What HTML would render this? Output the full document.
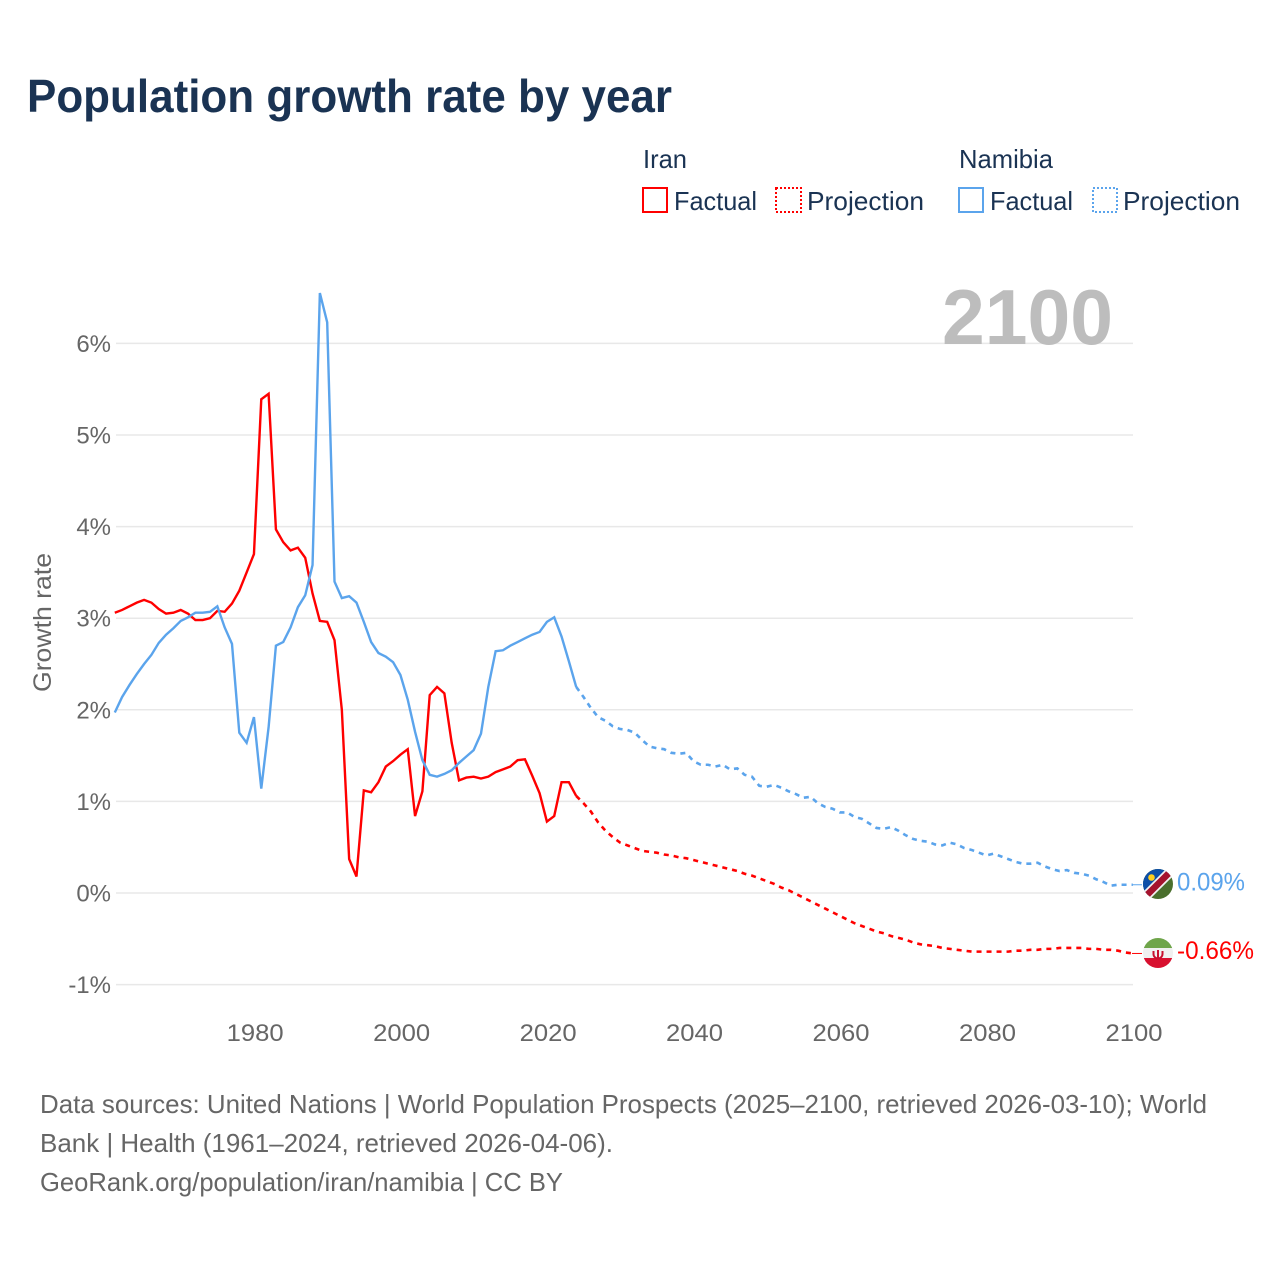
<!DOCTYPE html>
<html lang="en">
<head>
<meta charset="utf-8">
<title>Population growth rate by year</title>
<style>
html,body{margin:0;padding:0;background:#fff;width:1280px;height:1280px;overflow:hidden}
svg{display:block;font-family:"Liberation Sans",sans-serif}
</style>
</head>
<body>
<svg id="chart" xmlns="http://www.w3.org/2000/svg" width="1280" height="1280" viewBox="0 0 1280 1280">
  <rect x="0" y="0" width="1280" height="1280" fill="#fff"/>
  <text x="27" y="112" font-size="46" font-weight="700" fill="#1a3353" textLength="645" lengthAdjust="spacingAndGlyphs">Population growth rate by year</text>

  <g fill="#1a3353" font-size="26">
    <text x="643" y="168" textLength="44" lengthAdjust="spacingAndGlyphs">Iran</text>
    <text x="959" y="168" textLength="94" lengthAdjust="spacingAndGlyphs">Namibia</text>
    <rect x="643" y="188" width="24" height="24" fill="none" stroke="#ff0000" stroke-width="2"/>
    <text x="674" y="210" textLength="83" lengthAdjust="spacingAndGlyphs">Factual</text>
    <rect x="776" y="188" width="25" height="24" fill="none" stroke="#ff0000" stroke-width="2" stroke-dasharray="2 2"/>
    <text x="807" y="210" textLength="117" lengthAdjust="spacingAndGlyphs">Projection</text>
    <rect x="959" y="188" width="24" height="24" fill="none" stroke="#5ba4ec" stroke-width="2"/>
    <text x="990" y="210" textLength="83" lengthAdjust="spacingAndGlyphs">Factual</text>
    <rect x="1093" y="188" width="24" height="24" fill="none" stroke="#5ba4ec" stroke-width="2" stroke-dasharray="2 2"/>
    <text x="1123" y="210" textLength="117" lengthAdjust="spacingAndGlyphs">Projection</text>
  </g>

  <g id="grid"></g>
  <g id="ylabels"></g>
  <g id="xlabels"></g>
  <text x="942" y="344" font-size="78" font-weight="700" fill="#bdbdbd" textLength="171" lengthAdjust="spacingAndGlyphs">2100</text>
  <text transform="translate(51 692) rotate(-90)" font-size="25" fill="#666666" textLength="139" lengthAdjust="spacingAndGlyphs">Growth rate</text>
  <g id="series"></g>

  <g>
    <clipPath id="clip-na"><circle cx="1158" cy="884" r="15"/></clipPath>
    <g clip-path="url(#clip-na)">
      <rect x="1143" y="869" width="30" height="30" fill="#4a6f2d"/>
      <polygon points="1143,869 1173,869 1143,899" fill="#0d4fa8"/>
      <line x1="1143" y1="899" x2="1173" y2="869" stroke="#f2f2f2" stroke-width="10"/>
      <line x1="1143" y1="899" x2="1173" y2="869" stroke="#a5132e" stroke-width="6.5"/>
      <circle cx="1151.5" cy="877.5" r="3.3" fill="#ffce1f"/>
    </g>
  </g>
  <g>
    <clipPath id="clip-ir"><circle cx="1158" cy="953" r="15"/></clipPath>
    <g clip-path="url(#clip-ir)">
      <rect x="1143" y="938" width="30" height="30" fill="#f0f0f0"/>
      <rect x="1143" y="938" width="30" height="10" fill="#6fa54a"/>
      <rect x="1143" y="958" width="30" height="10" fill="#d8102f"/>
      <path d="M1153.5 951v3a4.5 4.5 0 0 0 9 0v-3M1158 950v9" fill="none" stroke="#c8102e" stroke-width="2"/>
    </g>
  </g>
  <text x="1177" y="890.5" font-size="25" fill="#5ba4ec" textLength="68" lengthAdjust="spacingAndGlyphs">0.09%</text>
  <text x="1177" y="959" font-size="25" fill="#ff0000" textLength="77" lengthAdjust="spacingAndGlyphs">-0.66%</text>

  <g font-size="26" fill="#666666">
    <text x="40" y="1113" textLength="1167" lengthAdjust="spacingAndGlyphs">Data sources: United Nations | World Population Prospects (2025–2100, retrieved 2026-03-10); World</text>
    <text x="40" y="1152" textLength="573" lengthAdjust="spacingAndGlyphs">Bank | Health (1961–2024, retrieved 2026-04-06).</text>
    <text x="40" y="1191" textLength="523" lengthAdjust="spacingAndGlyphs">GeoRank.org/population/iran/namibia | CC BY</text>
  </g>
</svg>
<script>
var yTickValues = [-1, 0, 1, 2, 3, 4, 5, 6];
var yTickLabels = ["-1%", "0%", "1%", "2%", "3%", "4%", "5%", "6%"];
var xTickYears = [1980, 2000, 2020, 2040, 2060, 2080, 2100];
var factualStartYear = 1961;
var projectionStartYear = 2025;
var iranFactual = [3.06,3.09,3.13,3.17,3.20,3.17,3.10,3.05,3.06,3.09,3.05,2.98,2.98,3.00,3.08,3.07,3.16,3.30,3.50,3.70,5.39,5.45,3.97,3.83,3.74,3.77,3.66,3.27,2.97,2.96,2.76,2.00,0.37,0.18,1.12,1.10,1.21,1.38,1.44,1.51,1.57,0.84,1.11,2.16,2.25,2.18,1.64,1.23,1.26,1.27,1.25,1.27,1.32,1.35,1.38,1.45,1.46,1.28,1.09,0.78,0.84,1.21,1.21,1.06];
var iranProjection = [0.98,0.89,0.77,0.68,0.61,0.55,0.52,0.49,0.46,0.45,0.44,0.42,0.41,0.39,0.38,0.36,0.34,0.32,0.30,0.28,0.26,0.24,0.21,0.19,0.16,0.13,0.10,0.06,0.03,-0.01,-0.05,-0.09,-0.13,-0.17,-0.21,-0.25,-0.29,-0.33,-0.36,-0.39,-0.42,-0.44,-0.47,-0.49,-0.51,-0.54,-0.56,-0.57,-0.58,-0.60,-0.61,-0.62,-0.63,-0.64,-0.64,-0.64,-0.64,-0.64,-0.64,-0.63,-0.63,-0.62,-0.62,-0.61,-0.61,-0.60,-0.60,-0.60,-0.60,-0.61,-0.61,-0.62,-0.62,-0.63,-0.65,-0.66];
var namibiaFactual = [1.97,2.14,2.27,2.39,2.50,2.60,2.73,2.82,2.89,2.97,3.01,3.06,3.06,3.07,3.13,2.90,2.72,1.75,1.64,1.92,1.14,1.81,2.70,2.74,2.90,3.12,3.25,3.58,6.55,6.23,3.40,3.22,3.24,3.17,2.96,2.74,2.62,2.58,2.52,2.38,2.11,1.76,1.45,1.29,1.27,1.30,1.34,1.42,1.49,1.56,1.74,2.25,2.64,2.65,2.70,2.74,2.78,2.82,2.85,2.96,3.01,2.80,2.53,2.25];
var namibiaProjection = [2.14,2.02,1.92,1.88,1.82,1.79,1.78,1.75,1.67,1.60,1.58,1.57,1.53,1.52,1.53,1.44,1.40,1.40,1.38,1.40,1.35,1.36,1.29,1.27,1.17,1.16,1.18,1.15,1.11,1.08,1.04,1.05,0.98,0.94,0.92,0.88,0.88,0.83,0.81,0.76,0.71,0.70,0.72,0.68,0.63,0.59,0.57,0.56,0.53,0.52,0.55,0.53,0.49,0.47,0.44,0.41,0.43,0.40,0.37,0.34,0.32,0.32,0.33,0.29,0.26,0.24,0.25,0.22,0.21,0.19,0.15,0.12,0.08,0.09,0.09,0.09];

var NS = "http://www.w3.org/2000/svg";
function xScale(year) { return 116 + (year - 1961) * (1134 - 116) / (2100 - 1961); }
function lineX(year) { return xScale(year) - 1.2; }
function yScale(v) { return 893 - v * 91.6; }

var grid = document.getElementById("grid");
var ylabels = document.getElementById("ylabels");
var xlabels = document.getElementById("xlabels");
var series = document.getElementById("series");

yTickValues.forEach(function (v, i) {
  var line = document.createElementNS(NS, "line");
  
  
  line.setAttribute("x1", 116);
  line.setAttribute("x2", 1133);
  line.setAttribute("y1", yScale(v));
  line.setAttribute("y2", yScale(v));
  line.setAttribute("stroke", "#e8e8e8");
  line.setAttribute("stroke-width", 1.5);
  grid.appendChild(line);

  var t = document.createElementNS(NS, "text");
  
  
  t.setAttribute("x", 111);
  t.setAttribute("y", yScale(v) + 8.5);
  t.setAttribute("text-anchor", "end");
  t.setAttribute("font-size", 24);
  t.setAttribute("fill", "#666666");
  t.textContent = yTickLabels[i];
  ylabels.appendChild(t);
});

xTickYears.forEach(function (yr) {
  var t = document.createElementNS(NS, "text");
  
  
  t.setAttribute("x", xScale(yr));
  t.setAttribute("y", 1041);
  t.setAttribute("text-anchor", "middle");
  t.setAttribute("font-size", 24);
  t.setAttribute("fill", "#666666");
  t.setAttribute("textLength", 57);
  t.setAttribute("lengthAdjust", "spacingAndGlyphs");
  t.textContent = String(yr);
  xlabels.appendChild(t);
});

function linePath(values, startYear, leadIn) {
  var pts = [];
  if (leadIn !== null) {
    pts.push(lineX(startYear - 1).toFixed(2) + "," + yScale(leadIn).toFixed(2));
  }
  values.forEach(function (v, i) {
    pts.push(lineX(startYear + i).toFixed(2) + "," + yScale(v).toFixed(2));
  });
  return "M" + pts.join("L");
}

function makePath(d, color, dashed) {
  var p = document.createElementNS(NS, "path");
  p.setAttribute("d", d);
  p.setAttribute("fill", "none");
  p.setAttribute("stroke", color);
  p.setAttribute("stroke-width", dashed ? 2.6 : 2.4);
  p.setAttribute("stroke-linejoin", "miter");
  if (dashed) { p.setAttribute("stroke-dasharray", "5 5"); }
  series.appendChild(p);
  return p;
}

var iranFactualLine = makePath(linePath(iranFactual, factualStartYear, null), "#ff0000", false);



var iranProjectionLine = makePath(linePath(iranProjection, projectionStartYear, iranFactual[iranFactual.length - 1]), "#ff0000", true);



var namibiaFactualLine = makePath(linePath(namibiaFactual, factualStartYear, null), "#5ba4ec", false);



var namibiaProjectionLine = makePath(linePath(namibiaProjection, projectionStartYear, namibiaFactual[namibiaFactual.length - 1]), "#5ba4ec", true);



function connector(value, color) {
  var l = document.createElementNS(NS, "line");
  l.setAttribute("x1", xScale(2100) - 2);
  l.setAttribute("x2", xScale(2100) + 8);
  l.setAttribute("y1", yScale(value));
  l.setAttribute("y2", yScale(value));
  l.setAttribute("stroke", color);
  l.setAttribute("stroke-width", 1);
  series.appendChild(l);
  return l;
}
var iranConnector = connector(iranProjection[iranProjection.length - 1], "#ff0000");


var namibiaConnector = connector(namibiaProjection[namibiaProjection.length - 1], "#5ba4ec");


</script>
</body>
</html>
